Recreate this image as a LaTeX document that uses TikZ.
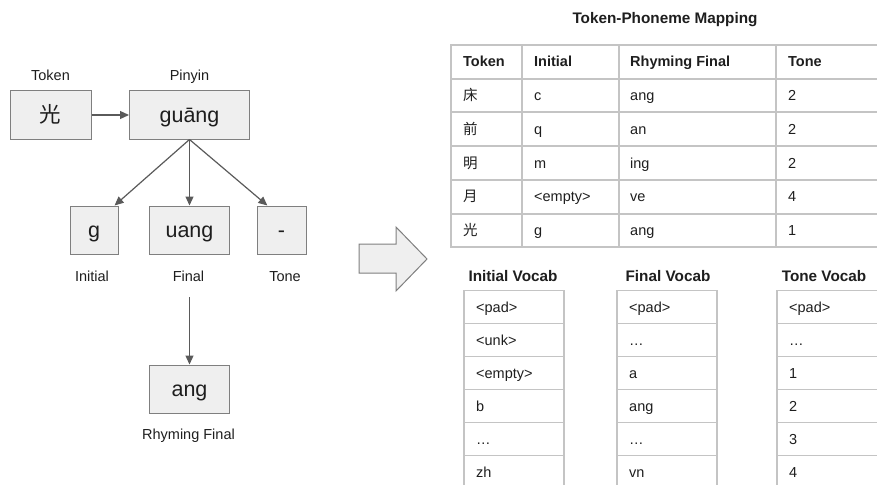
\documentclass[tikz,border=0pt]{standalone}
\usepackage{fontspec}
\setmainfont{Liberation Sans}
\newfontfamily\cjk{Noto Sans CJK SC}
\usetikzlibrary{arrows.meta}

\definecolor{boxfill}{HTML}{EFEFEF}
\definecolor{boxline}{HTML}{7F7F7F}
\definecolor{arrowgray}{HTML}{5A5A5A}
\definecolor{gridline}{HTML}{C4C4C4}
\definecolor{ink}{HTML}{1E1E1E}

\begin{document}
\begin{tikzpicture}[x=1pt,y=-1pt,
  pbox/.style={draw=boxline, fill=boxfill, line width=1pt, minimum height=48pt,
    inner sep=0pt, font=\fontsize{21.5}{24}\selectfont,
    text height=17pt, text depth=3pt, text=ink},
  lab/.style={anchor=base, inner sep=0pt, font=\fontsize{14.5}{17}\selectfont, text=ink},
  arr/.style={draw=arrowgray, line width=1.2pt, -{Triangle[length=9pt,width=8pt]}},
  cell/.style={anchor=base west, inner sep=0pt, font=\fontsize{14.5}{17}\selectfont, text=ink},
  headcell/.style={cell, font=\fontsize{14.5}{17}\selectfont\bfseries},
  ttl/.style={anchor=base, inner sep=0pt, font=\fontsize{15.3}{18}\selectfont\bfseries, text=ink},
  tabline/.style={draw=gridline, line width=1.6pt, line cap=rect},
  bigarrow/.style={draw=boxline, fill=boxfill, line width=1pt, line join=miter},
]
\useasboundingbox (0,0) rectangle (877,484);

% ---------- decomposition of one token ----------
\node[pbox, minimum width=81pt] (tok) at (50.5,115) {\cjk 光};
\node[pbox, minimum width=120pt] (pin) at (189.5,115) {guāng};
\node[lab] (tokl) at (50.5,81) {Token};
\node[lab] (pinl) at (189.5,81) {Pinyin};

\node[pbox, minimum width=48pt] (ini) at (94,230) {g};
\node[pbox, minimum width=80pt] (fin) at (189.5,230) {uang};
\node[pbox, minimum width=49pt] (tone) at (281.5,230) {-};
\node[lab] (inil) at (92,281) {Initial};
\node[lab] (finl) at (188.5,281) {Final};
\node[lab] (tonel) at (285,281) {Tone};

\node[pbox, minimum width=80pt] (rhy) at (189.5,389) {ang};
\node[lab] (rhyl) at (188.5,439) {Rhyming Final};

\draw[arr] (tok) -- (pin);
\draw[arr] (pin.south) -- (ini.50);
\draw[arr] (pin.south) -- (fin.north);
\draw[arr] (pin.south) -- (tone.120);
\coordinate (fintail) at (189.5,297);
\draw[arr] (fintail) -- (rhy.north);

% ---------- block arrow ----------
\path[bigarrow] (359,244) -- (396,244) -- (396,227) -- (427,259)
  -- (396,291) -- (396,273) -- (359,273) -- cycle;

% ---------- token-phoneme mapping table ----------
\node[ttl] (maptitle) at (665,24) {Token-Phoneme Mapping};
\foreach \y in {45,79,112,146,180,214,247}
  \draw[tabline] (451,\y) -- (877,\y);
\foreach \x in {451,522,619,776}
  \draw[tabline] (\x,45) -- (\x,247);

\node[headcell] (h1) at (463,67) {Token};
\node[headcell] (h2) at (534,67) {Initial};
\node[headcell] (h3) at (630,67) {Rhyming Final};
\node[headcell] (h4) at (788,67) {Tone};

\foreach [count=\r] \a/\b/\c/\d in
  {床/c/ang/2, 前/q/an/2, 明/m/ing/2, 月/<empty>/ve/4, 光/g/ang/1} {
  \pgfmathsetmacro\yb{62+33.7*\r+5}
  \node[cell] (m-\r-1) at (463,\yb) {\cjk \a};
  \node[cell] (m-\r-2) at (534,\yb) {\b};
  \node[cell] (m-\r-3) at (630,\yb) {\c};
  \node[cell] (m-\r-4) at (788,\yb) {\d};
}

% ---------- vocabularies ----------
\node[ttl] (vt1) at (513,281.5) {Initial Vocab};
\node[ttl] (vt2) at (668,281.5) {Final Vocab};
\node[ttl] (vt3) at (824,281.5) {Tone Vocab};

% initial vocab
\foreach \k in {0,...,5}
  \draw[tabline] (464,290.5+33*\k) -- (564,290.5+33*\k);
\draw[tabline] (464,290.5) -- (464,490);
\draw[tabline] (564,290.5) -- (564,490);
\foreach [count=\k] \w in {<pad>, <unk>, <empty>, b, …, zh}
  \node[cell] (vi-\k) at (476,274+33*\k+5) {\w};

% final vocab
\foreach \k in {0,...,5}
  \draw[tabline] (617,290.5+33*\k) -- (717,290.5+33*\k);
\draw[tabline] (617,290.5) -- (617,490);
\draw[tabline] (717,290.5) -- (717,490);
\foreach [count=\k] \w in {<pad>, …, a, ang, …, vn}
  \node[cell] (vf-\k) at (629,274+33*\k+5) {\w};

% tone vocab
\foreach \k in {0,...,5}
  \draw[tabline] (777,290.5+33*\k) -- (880,290.5+33*\k);
\draw[tabline] (777,290.5) -- (777,490);
\foreach [count=\k] \w in {<pad>, …, 1, 2, 3, 4}
  \node[cell] (vn-\k) at (789,274+33*\k+5) {\w};
\end{tikzpicture}
\end{document}
